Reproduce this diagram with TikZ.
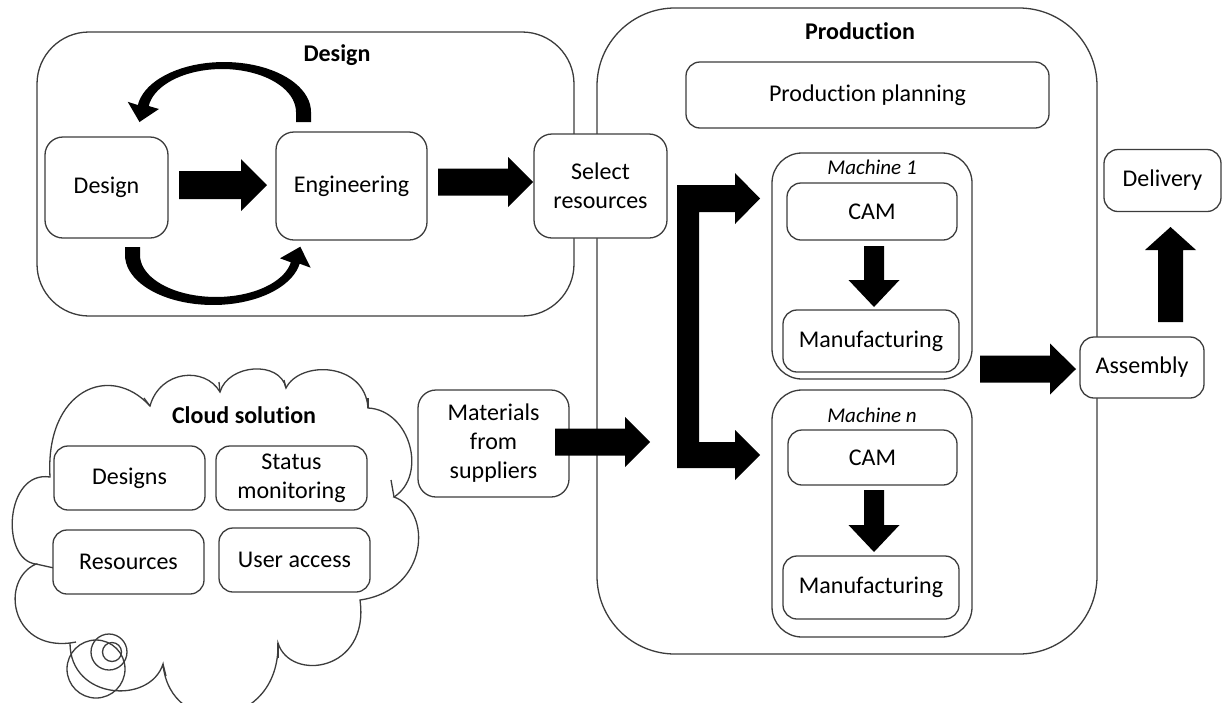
\documentclass[tikz,border=0pt]{standalone}
\usepackage{fontspec}
\setmainfont{Carlito}[Ligatures=NoCommon]
\definecolor{linegray}{RGB}{60,60,60}
\newcommand{\harr}[6]{% x start, x tip, y centre, half shaft, half head, head length
  \fill[arrowfill] (#1,#3-#4) -- (#2-#6,#3-#4) -- (#2-#6,#3-#5) -- (#2,#3) -- (#2-#6,#3+#5) -- (#2-#6,#3+#4) -- (#1,#3+#4) -- cycle;}
\newcommand{\varr}[6]{% x centre, y start, y tip, half shaft, half head, head length (signed)
  \fill[arrowfill] (#1-#4,#2) -- (#1-#4,#3-#6) -- (#1-#5,#3-#6) -- (#1,#3) -- (#1+#5,#3-#6) -- (#1+#4,#3-#6) -- (#1+#4,#2) -- cycle;}
\begin{document}
\begin{tikzpicture}[x=1pt,y=-1pt,
  txt/.style={font=\fontsize{24}{29}\selectfont},
  box/.style={draw=linegray, line width=1.3pt, rounded corners=14pt, fill=white, align=center, inner sep=0pt, txt},
  area/.style={draw=linegray, line width=1.3pt, fill=white, inner sep=0pt},
  title/.style={font=\fontsize{24}{29}\selectfont\bfseries},
  mlabel/.style={font=\fontsize{21}{25}\selectfont\itshape},
  arrowfill/.style={fill=black},
  cloudline/.style={draw=linegray, line width=1.3pt}]
\useasboundingbox (0,0) rectangle (1222,702);
\clip (0,0) rectangle (1222,702);

% ---- containers
\node[area, rounded corners=52pt, minimum width=537pt, minimum height=284pt] (designarea) at (305.5,174) {};
\node[title] (designtitle) at (337,55) {Design};
\node[area, rounded corners=78pt, minimum width=500pt, minimum height=646pt] (prodarea) at (847,331) {};
\node[title] (prodtitle) at (860,31) {Production};

% ---- cloud
\path[cloudline, fill=white]
  (50,477) .. controls (45,390) and (110,362) .. (150,406)
  .. controls (160,370) and (205,366) .. (220,392)
  .. controls (228,364) and (280,360) .. (286,388)
  .. controls (300,360) and (365,362) .. (368,408)
  .. controls (410,410) and (428,475) .. (394,497)
  .. controls (432,510) and (430,590) .. (360,600)
  .. controls (370,672) and (290,682) .. (278,643)
  .. controls (280,730) and (170,740) .. (163,664)
  .. controls (150,705) and (70,700) .. (70,643)
  .. controls (10,650) and (0,580) .. (36,564)
  .. controls (0,560) and (5,470) .. (50,477) -- cycle;
% small inner stubs of the cloud outline
\draw[cloudline] (150,406) -- (144,398);
\draw[cloudline] (220,392) -- (219,382);
\draw[cloudline] (286,388) -- (284,380);
\draw[cloudline] (368,408) -- (368,398);
\draw[cloudline] (394,497) -- (391,480);
\draw[cloudline] (278,643) -- (278,658);
\draw[cloudline] (163,664) -- (166,676);
\draw[cloudline] (70,643) -- (76,642);
\draw[cloudline] (36,564) -- (54,568);
\draw[cloudline] (96,669) circle (29pt);
\draw[cloudline] (109,652) circle (18pt);
\draw[cloudline] (112,652) circle (9.5pt);
\node[title] (cloudtitle) at (244,415) {Cloud solution};
\node[box, minimum width=151pt, minimum height=64pt] (designs) at (129.5,478) {Designs};
\node[box, minimum width=151pt, minimum height=64pt] (status) at (291.5,478) {Status\\monitoring};
\node[box, minimum width=151pt, minimum height=64pt] (resources) at (128.5,562) {Resources};
\node[box, minimum width=151pt, minimum height=64pt] (useraccess) at (294.5,560) {User access};

% ---- design part
\node[box, rounded corners=18pt, minimum width=123pt, minimum height=101pt] (design) at (106.5,187.5) {Design};
\node[box, rounded corners=18pt, minimum width=151pt, minimum height=108pt] (engineering) at (351.5,186) {Engineering};
\node[box, rounded corners=18pt, minimum width=133pt, minimum height=104pt] (select) at (600.5,186) {Select\\resources};
\node[box, rounded corners=18pt, minimum width=151pt, minimum height=107pt] (materials) at (493.5,443.5) {Materials\\from\\suppliers};

% ---- production part
\node[box, minimum width=363pt, minimum height=66pt] (planning) at (867.5,95) {Production planning};
\node[area, rounded corners=30pt, minimum width=200pt, minimum height=226pt] (machine1) at (872,266) {};
\node[mlabel] (m1label) at (872,167) {Machine 1};
\node[box, minimum width=170pt, minimum height=57pt] (cam1) at (872,211.5) {CAM};
\node[box, minimum width=176pt, minimum height=62pt] (manu1) at (871,341) {Manufacturing};
\node[area, rounded corners=30pt, minimum width=200pt, minimum height=247pt] (machinen) at (872,513.5) {};
\node[mlabel] (mnlabel) at (872,415) {Machine n};
\node[box, minimum width=169pt, minimum height=55pt] (camn) at (872.5,457.5) {CAM};
\node[box, minimum width=176pt, minimum height=63pt] (manun) at (871,587.5) {Manufacturing};
\node[box, minimum width=124pt, minimum height=61pt] (assembly) at (1142,367.5) {Assembly};
\node[box, minimum width=117pt, minimum height=62pt] (delivery) at (1162.5,180.5) {Delivery};

% ---- straight block arrows
\harr{179}{267}{185}{14}{26}{26}
\harr{438}{533}{182}{13.5}{25}{25}
\harr{555}{650}{442}{13.5}{25}{25}
\harr{980}{1076}{369}{13.5}{25.5}{26}
\varr{874}{246}{307}{10}{25.5}{27}
\varr{874}{490}{552}{10}{25.5}{27}
\varr{1170.5}{322}{227}{12.5}{25.5}{-23}

% ---- bracket arrow from select resources to the machines
\fill[arrowfill] (677,185) -- (735,185) -- (735,173) -- (760,198.5) -- (735,224) -- (735,212)
  -- (699,212) -- (699,442) -- (735,442) -- (735,430) -- (760,455) -- (735,480) -- (735,468)
  -- (677,468) -- cycle;

% ---- curved arrows between design and engineering
\fill[arrowfill] (296,122) -- (311,122) -- (311,112)
  -- plot[domain=0:172, samples=40] ({224+87*cos(\x)},{112-50*sin(\x)})
  -- (127.7,101.8) -- (139.5,122) -- (158.9,109)
  -- plot[domain=0:172, samples=40] ({222+74*cos(172-\x)},{112-43*sin(172-\x)})
  -- cycle;
\fill[arrowfill] (140,247) -- (125,247)
  -- plot[domain=0:170, samples=40] ({213+88*cos(180-\x)},{255+50*sin(180-\x)})
  -- (310.6,267.7) -- (300.3,246.7) -- (280,258.3)
  -- plot[domain=0:170, samples=40] ({216+76*cos(10+\x)},{255+42*sin(10+\x)})
  -- cycle;
\end{tikzpicture}
\end{document}
